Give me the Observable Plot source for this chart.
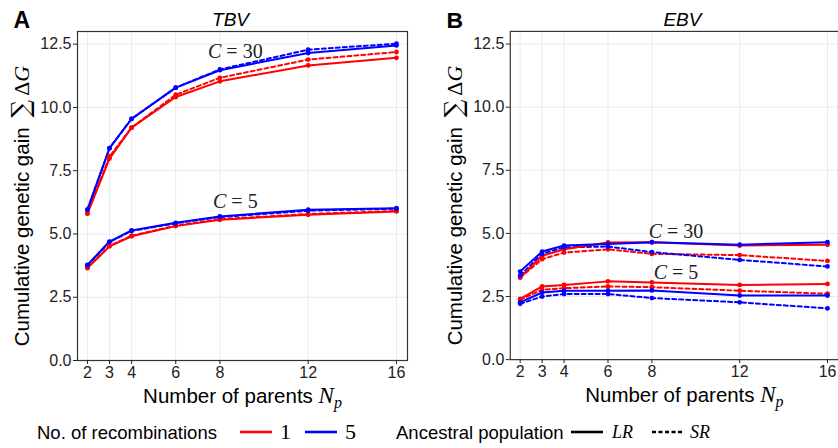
<!DOCTYPE html>
<html><head><meta charset="utf-8">
<script src="https://cdn.jsdelivr.net/npm/d3@7"></script>
<script src="https://cdn.jsdelivr.net/npm/@observablehq/plot@0.6"></script>
<style>
body{margin:0;background:#fff;}
#wrap{position:relative;width:838px;height:448px;overflow:hidden;font-family:"Liberation Sans",Arial,sans-serif;background:#fff;}
#pa{position:absolute;left:0;top:0;}
#pb{position:absolute;left:418px;top:0;}
#legend{position:absolute;left:0;top:418px;width:838px;height:30px;font-size:18.5px;color:#000;}
#legend > *{position:absolute;white-space:nowrap;}
.m{font-family:"Liberation Serif","DejaVu Serif",serif;}
</style></head><body>
<div id="wrap"><div id="pa"></div><div id="pb"></div><div id="legend"></div></div>
<script>
// ---- data ----
const Np = [2, 3, 4, 6, 8, 12, 16];
const yTicks = [0, 2.5, 5, 7.5, 10, 12.5];
const recombinations = ["1", "5"];
const populations = ["LR", "SR"];
const panelTitles = ["TBV", "EBV"];
const panelLetters = ["A", "B"];
const cValues = [30, 5];

// TBV panel
const tbvC30R1LR = [5.80, 7.98, 9.20, 10.41, 11.03, 11.66, 11.96];
const tbvC30R1SR = [5.82, 8.06, 9.20, 10.50, 11.17, 11.89, 12.19];
const tbvC30R5LR = [5.96, 8.39, 9.55, 10.78, 11.47, 12.15, 12.45];
const tbvC30R5SR = [5.96, 8.39, 9.55, 10.78, 11.50, 12.28, 12.52];
const tbvC5R1LR = [3.65, 4.51, 4.91, 5.31, 5.56, 5.76, 5.89];
const tbvC5R1SR = [3.67, 4.53, 4.93, 5.33, 5.58, 5.79, 5.91];
const tbvC5R5LR = [3.78, 4.70, 5.14, 5.44, 5.69, 5.96, 6.02];
const tbvC5R5SR = [3.76, 4.68, 5.12, 5.42, 5.67, 5.92, 6.00];
// EBV panel
const ebvC30R1LR = [3.25, 4.11, 4.37, 4.64, 4.65, 4.52, 4.55];
const ebvC30R1SR = [3.25, 3.98, 4.24, 4.37, 4.19, 4.14, 3.91];
const ebvC30R5LR = [3.49, 4.28, 4.52, 4.58, 4.65, 4.55, 4.65];
const ebvC30R5SR = [3.33, 4.19, 4.45, 4.48, 4.26, 3.95, 3.69];
const ebvC5R1LR = [2.41, 2.90, 2.96, 3.10, 3.06, 2.96, 3.00];
const ebvC5R1SR = [2.37, 2.77, 2.83, 2.90, 2.87, 2.73, 2.61];
const ebvC5R5LR = [2.27, 2.66, 2.73, 2.73, 2.74, 2.54, 2.54];
const ebvC5R5SR = [2.21, 2.50, 2.60, 2.60, 2.44, 2.27, 2.03];

// annotation anchors (data coordinates)
const tbvLabelX = [8.7, 8.7];
const tbvLabelY = [12.19, 6.26];
const ebvLabelX = [9.1, 9.1];
const ebvLabelY = [5.07, 3.43];

// ---- build tables ----
function series(C, rec, pop, v) { return {C, rec, pop, v}; }
const tbvSeries = [
  series(30, "1", "LR", tbvC30R1LR), series(30, "1", "SR", tbvC30R1SR),
  series(30, "5", "LR", tbvC30R5LR), series(30, "5", "SR", tbvC30R5SR),
  series(5, "1", "LR", tbvC5R1LR), series(5, "1", "SR", tbvC5R1SR),
  series(5, "5", "LR", tbvC5R5LR), series(5, "5", "SR", tbvC5R5SR)
];
const ebvSeries = [
  series(30, "1", "LR", ebvC30R1LR), series(30, "1", "SR", ebvC30R1SR),
  series(30, "5", "LR", ebvC30R5LR), series(30, "5", "SR", ebvC30R5SR),
  series(5, "1", "LR", ebvC5R1LR), series(5, "1", "SR", ebvC5R1SR),
  series(5, "5", "LR", ebvC5R5LR), series(5, "5", "SR", ebvC5R5SR)
];
function toRows(list) {
  return list.flatMap(s => Np.map((n, i) => ({
    Np: n, value: s.v[i], rec: s.rec, pop: s.pop, key: `${s.C}-${s.rec}-${s.pop}`
  }))).sort((a, b) => d3.ascending(a.rec, b.rec));
}
function toLabels(xs, ys) {
  return cValues.map((c, i) => ({x: xs[i], y: ys[i], text: `C = ${c}`}));
}

const serif = "Liberation Serif, DejaVu Serif, serif";
const sans = "Liberation Sans, Arial, sans-serif";

function panel({rows, labels, title, letter, width, marginLeft, marginRight, titleDx, xLabelDx}) {
  return Plot.plot({
    width, height: 412,
    marginLeft, marginRight, marginTop: 31, marginBottom: 52,
    style: {fontFamily: sans, fontSize: "16px", color: "#222", background: "transparent", overflow: "visible"},
    x: {domain: [1.55, 16.5]},
    y: {domain: [0, 13]},
    color: {domain: recombinations, range: ["#ff0000", "#0000ff"]},
    marks: [
      Plot.gridX(Np, {stroke: "#ebebeb", strokeOpacity: 1}),
      Plot.gridY(yTicks, {stroke: "#ebebeb", strokeOpacity: 1}),
      Plot.line(rows.filter(d => d.pop === "SR"), {x: "Np", y: "value", z: "key", stroke: "rec", strokeWidth: 2, strokeDasharray: "4,3"}),
      Plot.line(rows.filter(d => d.pop === "LR"), {x: "Np", y: "value", z: "key", stroke: "rec", strokeWidth: 2}),
      Plot.dot(rows, {x: "Np", y: "value", fill: "rec", r: 2.4}),
      Plot.text(labels, {x: "x", y: "y", text: "text", fontFamily: serif, fontSize: 20, fill: "#222"}),
      Plot.frame({stroke: "#333", strokeWidth: 1.2}),
      Plot.axisX({ticks: Np, tickFormat: d => String(d), tickSize: 4, tickPadding: 2, label: null}),
      Plot.axisY({ticks: yTicks, tickFormat: d3.format(".1f"), tickSize: 4, tickPadding: 2, label: null}),
      Plot.text([title], {frameAnchor: "top", lineAnchor: "middle", textAnchor: "middle", dy: -12, dx: titleDx, fontStyle: "italic", fontSize: 19, fill: "#000"}),
      Plot.text([letter], {frameAnchor: "top-left", lineAnchor: "middle", textAnchor: "start", dx: -64, dy: -11, fontWeight: "bold", fontSize: 23, fill: "#000"}),
      Plot.text(["Number of parents N_p"], {frameAnchor: "bottom", lineAnchor: "middle", textAnchor: "middle", dy: 36, dx: xLabelDx, fontSize: 20.5, fill: "#000"}),
      Plot.text(["Cumulative genetic gain ∑ΔG"], {frameAnchor: "left", lineAnchor: "middle", textAnchor: "middle", dx: -55, dy: 10, rotate: -90, fontSize: 20.5, fill: "#000"})
    ]
  });
}

const NS = "http://www.w3.org/2000/svg";
function setParts(el, parts) {
  while (el.firstChild) el.removeChild(el.firstChild);
  el.setAttribute("style", "white-space:pre");
  for (const [txt, attrs] of parts) {
    const t = document.createElementNS(NS, "tspan");
    t.textContent = txt;
    for (const k in attrs) t.setAttribute(k, attrs[k]);
    el.appendChild(t);
  }
}
function enrich(svg) {
  svg.querySelectorAll("text").forEach(el => {
    const s = el.textContent;
    if (s.startsWith("C = ")) {
      setParts(el, [["C", {"font-style": "italic"}], [s.slice(1), {}]]);
    } else if (s === "Number of parents N_p") {
      setParts(el, [["Number of parents ", {}],
        ["N", {"font-family": serif, "font-style": "italic", "font-size": "23"}],
        ["p", {"font-family": serif, "font-style": "italic", "font-size": "16", "dy": "5"}]]);
    } else if (s === "Cumulative genetic gain ∑ΔG") {
      setParts(el, [["Cumulative genetic gain ", {}],
        ["∑", {"font-family": "DejaVu Serif, serif", "font-size": "25", "dx": "4"}],
        ["Δ", {"font-family": serif, "font-size": "22", "dx": "4"}],
        ["G", {"font-family": serif, "font-style": "italic", "font-size": "22"}]]);
    }
  });
}

const svgA = panel({rows: toRows(tbvSeries), labels: toLabels(tbvLabelX, tbvLabelY), title: panelTitles[0], letter: panelLetters[0], width: 418, marginLeft: 77, marginRight: 11, titleDx: -12, xLabelDx: 0});
const svgB = panel({rows: toRows(ebvSeries), labels: toLabels(ebvLabelX, ebvLabelY), title: panelTitles[1], letter: panelLetters[1], width: 421, marginLeft: 92, marginRight: 0, titleDx: 8, xLabelDx: 10});
enrich(svgA); enrich(svgB);
document.getElementById("pa").appendChild(svgA);
document.getElementById("pb").appendChild(svgB);

// ---- legend ----
const colorRange = ["#ff0000", "#0000ff"];
const legend = document.getElementById("legend");
function add(html, left, top) {
  const d = document.createElement("div");
  d.innerHTML = html; d.style.left = left + "px"; d.style.top = top + "px";
  legend.appendChild(d);
}
function swatch(color, dash) {
  return `<svg width="34" height="6" style="display:block"><line x1="1" y1="3" x2="33" y2="3" stroke="${color}" stroke-width="2.6" ${dash ? 'stroke-dasharray="4,2.5"' : ""}/></svg>`;
}
add("No. of recombinations", 37, 4);
add(swatch(colorRange[0]), 239, 11);
add(`<span class="m" style="font-size:22px">${recombinations[0]}</span>`, 280, 1);
add(swatch(colorRange[1]), 304, 11);
add(`<span class="m" style="font-size:22px">${recombinations[1]}</span>`, 345, 1);
add("Ancestral population", 396, 4);
add(swatch("#000"), 570, 11);
add(`<span class="m" style="font-size:18px;font-style:italic">${populations[0]}</span>`, 612, 3);
add(swatch("#000", true), 651, 11);
add(`<span class="m" style="font-size:18px;font-style:italic">${populations[1]}</span>`, 690, 3);
</script>
</body></html>
